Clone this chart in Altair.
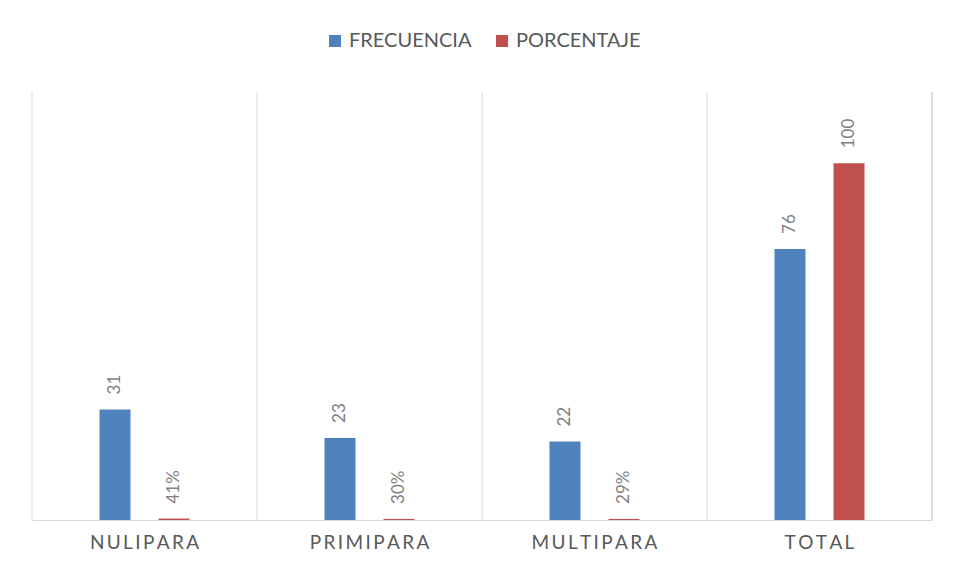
import altair as alt
import pandas as pd

categories = ["NULIPARA", "PRIMIPARA", "MULTIPARA", "TOTAL"]
series = ["FRECUENCIA", "PORCENTAJE"]
frecuencia = [31, 23, 22, 76]
porcentaje = [0.41, 0.30, 0.29, 100]
frec_labels = ["31", "23", "22", "76"]
porc_labels = ["41%", "30%", "29%", "100"]
colors = ["#4F81BD", "#C0504D"]

rows = []
for i, c in enumerate(categories):
    rows.append(dict(cat=c, serie=series[0], valor=frecuencia[i], etiqueta=frec_labels[i]))
    rows.append(dict(cat=c, serie=series[1], valor=porcentaje[i], etiqueta=porc_labels[i]))
df = pd.DataFrame(rows)
cats_df = pd.DataFrame({"cat": categories})

W, H = 900, 428
FONT = "Lato"

xaxis = alt.Axis(title=None, ticks=False, grid=False, domainColor="#D9D9D9",
                 labelColor="#595959", labelFontSize=19, labelFont=FONT,
                 labelPadding=13, labelAngle=0,
                 labelExpr="join(split(datum.label, ''), '\u2009')")
xscale = alt.Scale(paddingInner=0, paddingOuter=0)
x = alt.X("cat:N", sort=categories, scale=xscale, axis=xaxis)
xo = alt.XOffset("serie:N", sort=series,
                 scale=alt.Scale(range=[67.5, 157.5], paddingInner=0.4746, paddingOuter=0))
y = alt.Y("valor:Q", scale=alt.Scale(domain=[0, 120]), axis=None)

grid = alt.Chart(cats_df).mark_rule(color="#D9D9D9", strokeWidth=1).encode(
    x=alt.X("cat:N", sort=categories, scale=xscale, axis=xaxis, bandPosition=0),
    y=alt.value(0), y2=alt.value(H))
edge = alt.Chart(cats_df).mark_rule(color="#D9D9D9", strokeWidth=1).encode(
    x=alt.value(W), y=alt.value(0), y2=alt.value(H))

bars = alt.Chart(df).mark_bar().encode(
    x=x, xOffset=xo, y=y,
    color=alt.Color("serie:N", sort=series,
                    scale=alt.Scale(domain=series, range=colors),
                    legend=alt.Legend(title=None, orient="none", legendX=293, legendY=-61,
                                      direction="horizontal", symbolType="square",
                                      symbolSize=144, symbolStrokeWidth=0,
                                      labelFontSize=20, labelFont=FONT,
                                      labelColor="#595959", columnPadding=20,
                                      labelOffset=4)))

text = alt.Chart(df).mark_text(angle=270, align="left", baseline="middle", dx=15,
                               fontSize=17, font=FONT, color="#7F7F7F").encode(
    x=x, xOffset=xo, y=y, text="etiqueta:N")

chart = alt.layer(grid, edge, bars, text).properties(
    width=W, height=H,
    autosize=alt.AutoSizeParams(type="none"),
    padding={"left": 24, "top": 84, "right": 20, "bottom": 50},
    background="white",
).configure_view(stroke=None)

chart.save("out.html", embed_options={"renderer": "svg", "actions": False})
